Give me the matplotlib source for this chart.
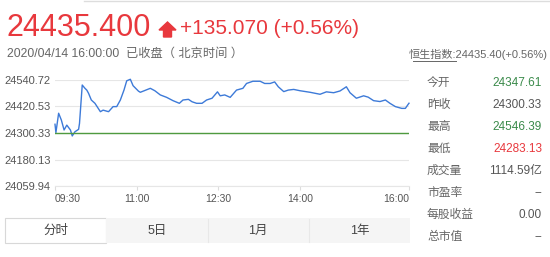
import matplotlib
matplotlib.use("Agg")
import matplotlib.pyplot as plt
from matplotlib.patches import Rectangle, Polygon
from matplotlib.lines import Line2D

plt.rcParams['font.family'] = ['Liberation Sans', 'Noto Sans CJK SC', 'DejaVu Sans']

# data: minutes after 09:30, index value
minutes = [0, 1, 4, 7, 10, 13, 17, 19, 22, 26, 27, 30, 33, 35, 37, 40, 44, 50, 53, 59,
           64, 68, 72, 76, 79, 83, 86, 92, 94, 105, 110, 116, 123, 130, 137, 141, 147,
           151, 156, 162, 167, 173, 179, 182, 187, 193, 200, 207, 211, 218, 226, 231,
           237, 242, 246, 252, 257, 263, 270, 281, 292, 299, 307, 314, 321, 325, 332,
           340, 345, 351, 358, 364, 369, 375, 382, 386, 389, 390]
values = [24340, 24302, 24390, 24359, 24314, 24336, 24314, 24287, 24306, 24317, 24344,
          24518, 24503, 24495, 24480, 24450, 24435, 24397, 24404, 24397, 24420, 24420,
          24450, 24495, 24537, 24544, 24515, 24490, 24485, 24503, 24492, 24473, 24462,
          24447, 24435, 24450, 24453, 24442, 24435, 24435, 24450, 24458, 24487, 24469,
          24473, 24462, 24495, 24503, 24525, 24535, 24535, 24525, 24525, 24532, 24510,
          24488, 24495, 24498, 24492, 24485, 24476, 24487, 24483, 24491, 24510, 24483,
          24458, 24469, 24463, 24447, 24443, 24450, 24435, 24420, 24412, 24412, 24430,
          24435.4]
prev_close = 24300.33
y_ticks = [24059.94, 24180.13, 24300.33, 24420.53, 24540.72]
x_ticks = [0, 90, 180, 270, 390]
x_labels = ["09:30", "11:00", "12:30", "14:00", "16:00"]

stat_names = ["今开", "昨收", "最高", "最低", "成交量", "市盈率", "每股收益", "总市值"]
stat_values = ["24347.61", "24300.33", "24546.39", "24283.13", "1114.59亿", "--", "0.00", "--"]
stat_colors = ["#3a8a4a", "#555555", "#3a8a4a", "#e8383d", "#555555", "#555555", "#555555", "#555555"]
tabs = ["分时", "5日", "1月", "1年"]

W, H = 550, 257
RED = "#e8383d"
GRAY = "#666666"


def fx(x):
    return x / W


def fy(y):
    return 1 - y / H


fig = plt.figure(figsize=(5.5, 2.57), dpi=100)

# chart
ax = fig.add_axes([fx(55), fy(186), fx(409) - fx(55), fy(80) - fy(186)])
ax.plot(minutes, values, color="#3d7ad8", lw=1.0, clip_on=False)
ax.axhline(prev_close, color="#4f9a3f", lw=1.0)
ax.set_xlim(0, 390)
ax.set_ylim(y_ticks[0], y_ticks[-1])
ax.set_yticks(y_ticks)
ax.set_yticklabels(["%.2f" % v for v in y_ticks], fontsize=8, color="#555555")
ax.set_xticks(x_ticks)
ax.set_xticklabels(x_labels, fontsize=7.5, color="#555555")
labs = ax.get_xticklabels()
labs[0].set_ha("left")
labs[-1].set_ha("right")
ax.grid(axis="y", color="#e6e6e6", lw=0.8)
ax.set_axisbelow(True)
for s in ["top", "right", "left"]:
    ax.spines[s].set_visible(False)
ax.spines["bottom"].set_color("#e6e6e6")
ax.tick_params(axis="y", length=0, pad=3)
ax.tick_params(axis="x", length=3, color="#dddddd", pad=3)

# top border line
fig.add_artist(Line2D([fx(84), 1], [fy(0.5), fy(0.5)], color="#dddddd", lw=1))

# header
fig.text(fx(7), fy(28), "24435.400", fontsize=22, color=RED, va="center")
fig.add_artist(Polygon([(fx(167.5), fy(22)), (fx(176), fy(30)), (fx(171.5), fy(30)),
                        (fx(171.5), fy(37)), (fx(163.5), fy(37)), (fx(163.5), fy(30)),
                        (fx(159), fy(30))], closed=True, color=RED))
fig.text(fx(180), fy(29), "+135.070 (+0.56%)", fontsize=15, color=RED, va="center")
fig.text(fx(7), fy(54), "2020/04/14 16:00:00  已收盘（ 北京时间 ）", fontsize=8.8,
         color=GRAY, va="center")
fig.text(fx(548), fy(54), "恒生指数:24435.40(+0.56%)", fontsize=8, color=GRAY,
         va="center", ha="right")
fig.add_artist(Line2D([fx(413), fx(456)], [fy(61), fy(61)], color=GRAY, lw=0.7))

# stats panel
for i, (n, v, c) in enumerate(zip(stat_names, stat_values, stat_colors)):
    yy = 83 + i * 22
    fig.text(fx(427), fy(yy), n, fontsize=8.5, color=GRAY, va="center")
    fig.text(fx(542), fy(yy), v, fontsize=8.5, color=c, va="center", ha="right")

# tabs
tw = (410 - 5) / len(tabs)
for i, t in enumerate(tabs):
    x0 = 5 + i * tw
    if i == 0:
        fig.add_artist(Rectangle((fx(x0), fy(243)), fx(tw), fy(218) - fy(243),
                                 facecolor="white", edgecolor="#d8d8d8", lw=0.8))
    else:
        fig.add_artist(Rectangle((fx(x0), fy(243)), fx(tw), fy(218) - fy(243),
                                 facecolor="#f5f5f5", edgecolor="none"))
        if i > 1:
            fig.add_artist(Line2D([fx(x0), fx(x0)], [fy(219), fy(242)], color="#e8e8e8", lw=0.8))
    fig.text(fx(x0 + tw / 2), fy(231), t, fontsize=9, color="#444444",
             ha="center", va="center")

fig.savefig("out.png", dpi=100)
